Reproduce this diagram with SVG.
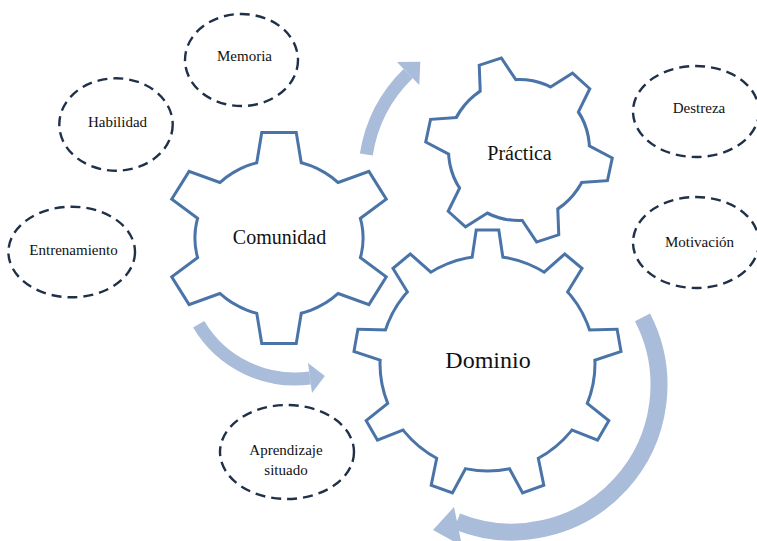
<svg xmlns="http://www.w3.org/2000/svg" xmlns:xlink="http://www.w3.org/1999/xlink" width="757" height="541" viewBox="0 0 757 541">
<style>
.ell{fill:none;stroke:#1f3049;stroke-width:2.4;stroke-dasharray:10 6}
.lbl{font-family:"Liberation Serif","Times New Roman",serif;font-size:15px;fill:#111;text-anchor:middle}
.big{font-size:20px}
.huge{font-size:24px}
.gs{fill:#4a74a8;stroke:#4a74a8;stroke-width:6;stroke-linejoin:miter}
.gf{fill:#fff;stroke:none}
.arr{fill:none;stroke:#a9bcd9;stroke-width:13}
.head{fill:#a9bcd9}
</style>
<defs>
<polygon id="tC" vector-effect="non-scaling-stroke" points="-20.9,-64 -14.8,-104 14.8,-104 20.9,-64"/>
<polygon id="tP" vector-effect="non-scaling-stroke" points="-20.3,-56.7 -10.5,-91.4 10.5,-91.4 20.3,-56.7"/>
<polygon id="tD" vector-effect="non-scaling-stroke" points="-15.5,-95 -10,-132.1 10,-132.1 15.5,-95"/>
</defs>

<g id="memoria"><ellipse class="ell" cx="241.5" cy="60" rx="56.5" ry="46"/><text class="lbl" x="244.5" y="61">Memoria</text></g>
<g id="habilidad"><ellipse class="ell" cx="116" cy="124.5" rx="56.7" ry="46.2"/><text class="lbl" x="117.5" y="127">Habilidad</text></g>
<g id="entrenamiento"><ellipse class="ell" cx="71.7" cy="252" rx="63.3" ry="45.3"/><text class="lbl" x="73.5" y="255">Entrenamiento</text></g>
<g id="destreza"><ellipse class="ell" cx="696" cy="111.5" rx="63" ry="45.5"/><text class="lbl" x="699" y="113">Destreza</text></g>
<g id="motivacion"><ellipse class="ell" cx="696" cy="242.5" rx="63" ry="45.5"/><text class="lbl" x="699.5" y="247">Motivación</text></g>
<g id="aprendizaje"><ellipse class="ell" cx="287" cy="452" rx="67" ry="47"/><text class="lbl" x="286" y="455">Aprendizaje</text><text class="lbl" x="286" y="475">situado</text></g>

<g id="comunidad">
<g transform="translate(279,238) scale(1.08,1)">
<g class="gs">
<circle r="76.5" vector-effect="non-scaling-stroke"/>
<use xlink:href="#tC"/><use xlink:href="#tC" transform="rotate(60)"/><use xlink:href="#tC" transform="rotate(120)"/><use xlink:href="#tC" transform="rotate(180)"/><use xlink:href="#tC" transform="rotate(240)"/><use xlink:href="#tC" transform="rotate(300)"/>
</g>
<g class="gf">
<circle r="76.5"/>
<use xlink:href="#tC"/><use xlink:href="#tC" transform="rotate(60)"/><use xlink:href="#tC" transform="rotate(120)"/><use xlink:href="#tC" transform="rotate(180)"/><use xlink:href="#tC" transform="rotate(240)"/><use xlink:href="#tC" transform="rotate(300)"/>
</g>
</g>
<text class="lbl big" x="279.5" y="244">Comunidad</text>
</g>

<g id="practica">
<g transform="translate(519,150)">
<g class="gs">
<circle r="69"/>
<use xlink:href="#tP" transform="rotate(42)"/><use xlink:href="#tP" transform="rotate(102)"/><use xlink:href="#tP" transform="rotate(162)"/><use xlink:href="#tP" transform="rotate(222)"/><use xlink:href="#tP" transform="rotate(282)"/><use xlink:href="#tP" transform="rotate(342)"/>
</g>
<g class="gf">
<circle r="69"/>
<use xlink:href="#tP" transform="rotate(42)"/><use xlink:href="#tP" transform="rotate(102)"/><use xlink:href="#tP" transform="rotate(162)"/><use xlink:href="#tP" transform="rotate(222)"/><use xlink:href="#tP" transform="rotate(282)"/><use xlink:href="#tP" transform="rotate(342)"/>
</g>
</g>
<text class="lbl big" x="519.5" y="160">Práctica</text>
</g>

<g id="dominio">
<g transform="translate(487.5,363.5)">
<g class="gs">
<circle r="106"/>
<use xlink:href="#tD"/><use xlink:href="#tD" transform="rotate(40)"/><use xlink:href="#tD" transform="rotate(80)"/><use xlink:href="#tD" transform="rotate(120)"/><use xlink:href="#tD" transform="rotate(160)"/><use xlink:href="#tD" transform="rotate(200)"/><use xlink:href="#tD" transform="rotate(240)"/><use xlink:href="#tD" transform="rotate(280)"/><use xlink:href="#tD" transform="rotate(320)"/>
</g>
<g class="gf">
<circle r="106"/>
<use xlink:href="#tD"/><use xlink:href="#tD" transform="rotate(40)"/><use xlink:href="#tD" transform="rotate(80)"/><use xlink:href="#tD" transform="rotate(120)"/><use xlink:href="#tD" transform="rotate(160)"/><use xlink:href="#tD" transform="rotate(200)"/><use xlink:href="#tD" transform="rotate(240)"/><use xlink:href="#tD" transform="rotate(280)"/><use xlink:href="#tD" transform="rotate(320)"/>
</g>
</g>
<text class="lbl huge" x="488" y="368">Dominio</text>
</g>

<g id="connectors">
<path class="arr" d="M366.3,154.4 A144.5,144.5 0 0 1 408.1,73.6"/>
<polygon class="head" points="396.9,62.1 420.3,61.7 419.3,85.1"/>
<path class="arr" d="M198.7,324.2 A112,112 0 0 0 310,378"/>
<polygon class="head" points="308,363.1 324.9,376 312,392.9"/>
<path class="arr" style="stroke-width:17" d="M642.5,317.4 A147,147 0 0 1 456.9,521.3"/>
<polygon class="head" points="454,507 433,530 462,546"/>
</g>
</svg>
